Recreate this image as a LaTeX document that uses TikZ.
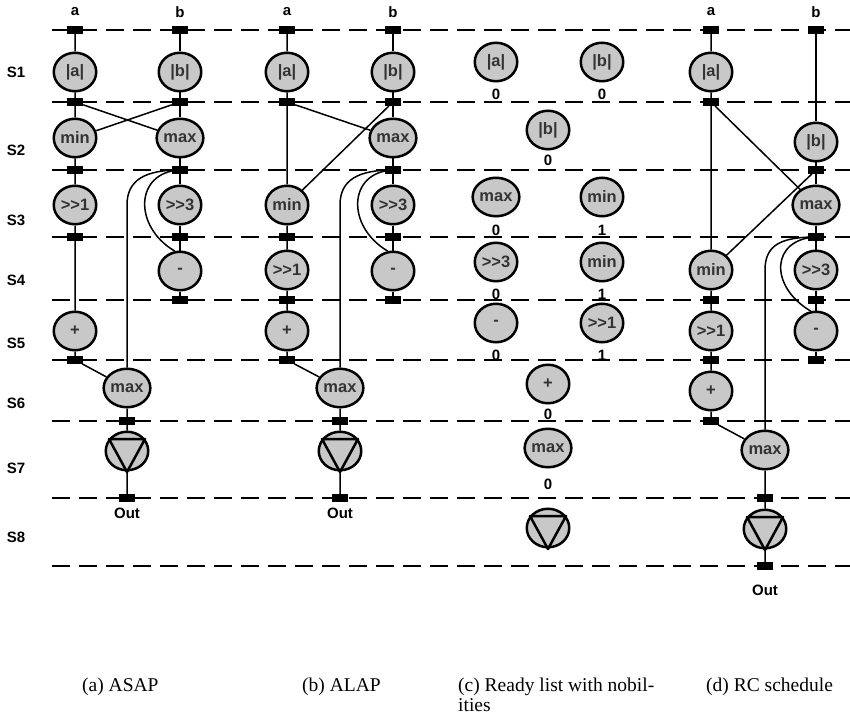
\documentclass[tikz,border=0pt]{standalone}
\usepackage{fontspec}
\setmainfont{Liberation Serif}
\newfontfamily\labelfont{Liberation Sans}
\usetikzlibrary{shapes.geometric}

\definecolor{Copfill}{HTML}{C8C8C8}
\definecolor{Coptext}{HTML}{333333}

\tikzset{
  opnode/.style={ellipse,draw=black,line width=2.5pt,fill=Copfill,minimum width=42.5pt,minimum height=38.5pt,
    inner sep=0pt,text=Coptext,font=\labelfont\bfseries\fontsize{16.5}{18}\selectfont},
  regbox/.style={rectangle,fill=black,minimum width=16pt,minimum height=7.5pt,inner sep=0pt},
  stageline/.style={line width=2.5pt,dash pattern=on 18pt off 9pt},
  wire/.style={line width=1.5pt},
  tag/.style={font=\labelfont\bfseries\fontsize{15}{17}\selectfont,inner sep=0pt},
  caption/.style={font=\fontsize{19.5}{20}\selectfont,anchor=north west,align=left,inner sep=0pt}
}

% inverted triangle inside an output node
\newcommand\outtri[1]{\draw[line width=2.5pt,line join=round] (#1.center) ++(-18,-12) -- ++(36,0) -- ++(-18,33) -- cycle;}

\begin{document}
\begin{tikzpicture}[x=1pt,y=-1pt]
	\useasboundingbox (0,0) rectangle (850,719);

	% control steps
	\foreach \y in {30,102,170,237,300,360,421,498,566}
		\draw[stageline] (52,\y) -- (850,\y);
	\foreach \s/\y in {1/72,2/150,3/220,4/280,5/343,6/403,7/468,8/537}
		\node[tag] (step\s) at (16,\y) {S\s};

	% (a) ASAP
	\node[tag] (A-ina) at (75,12) {a};
	\node[tag] (A-inb) at (180,12) {b};
	\foreach \n/\x/\y in {A-ra0/75/30,A-ra1/75/102,A-ra2/75/170,A-ra3/75/237,A-ra5/75/360,
		A-rb0/180/30,A-rb1/180/102,A-rb2/180/170,A-rb3/180/237,A-rb4/180/300,A-rm6/127/421,A-rm7/127/498}
		\node[regbox] (\n) at (\x,\y) {};
	\node[opnode] (A-absa) at (75,72) {|a|};
	\node[opnode] (A-absb) at (180,72) {|b|};
	\node[opnode] (A-min) at (75,138) {min};
	\node[opnode] (A-max) at (180,138) {max};
	\node[opnode] (A-sh1) at (75,205) {>>1};
	\node[opnode] (A-sh3) at (180,205) {>>3};
	\node[opnode] (A-sub) at (180,271) {-};
	\node[opnode] (A-add) at (75,331) {+};
	\node[opnode] (A-mx) at (127,388) {max};
	\node[opnode] (A-tri) at (127,451) {};
	\outtri{A-tri}
	\node[tag] (A-out) at (127,513) {Out};
	\draw[wire] (A-ra0) -- (A-absa) -- (A-ra1) -- (A-min) -- (A-ra2) -- (A-sh1) -- (A-ra3) -- (A-add) -- (A-ra5) -- (A-mx) -- (A-rm6) -- (A-tri) -- (A-rm7);
	\draw[wire] (A-rb0) -- (A-absb) -- (A-rb1) -- (A-max) -- (A-rb2) -- (A-sh3) -- (A-rb3) -- (A-sub) -- (A-rb4);
	\draw[wire] (A-ra1) -- (A-max);
	\draw[wire] (A-rb1) -- (A-min);
	\draw[wire] (A-rb2.center) .. controls +(-35,0) and +(0,-25) .. (A-mx |- A-sh3) -- (A-mx);
	\draw[wire] (A-rb2.center) .. controls +(-45,2) and +(-42,-25) .. (A-sub.105);

	% (b) ALAP
	\node[tag] (B-ina) at (287,12) {a};
	\node[tag] (B-inb) at (393,12) {b};
	\foreach \n/\x/\y in {B-ra0/287/30,B-ra1/287/102,B-ra3/287/237,B-ra4/287/300,B-ra5/287/360,
		B-rb0/393/30,B-rb1/393/102,B-rb2/393/170,B-rb3/393/237,B-rb4/393/300,B-rm6/340/421,B-rm7/340/498}
		\node[regbox] (\n) at (\x,\y) {};
	\node[opnode] (B-absa) at (287,72) {|a|};
	\node[opnode] (B-absb) at (393,72) {|b|};
	\node[opnode] (B-max) at (393,138) {max};
	\node[opnode] (B-min) at (287,205) {min};
	\node[opnode] (B-sh3) at (393,205) {>>3};
	\node[opnode] (B-sh1) at (287,270) {>>1};
	\node[opnode] (B-sub) at (393,271) {-};
	\node[opnode] (B-add) at (287,331) {+};
	\node[opnode] (B-mx) at (340,388) {max};
	\node[opnode] (B-tri) at (340,451) {};
	\outtri{B-tri}
	\node[tag] (B-out) at (340,513) {Out};
	\draw[wire] (B-ra0) -- (B-absa) -- (B-ra1) -- (B-min) -- (B-ra3) -- (B-sh1) -- (B-ra4) -- (B-add) -- (B-ra5) -- (B-mx) -- (B-rm6) -- (B-tri) -- (B-rm7);
	\draw[wire] (B-rb0) -- (B-absb) -- (B-rb1) -- (B-max) -- (B-rb2) -- (B-sh3) -- (B-rb3) -- (B-sub) -- (B-rb4);
	\draw[wire] (B-ra1) -- (B-max);
	\draw[wire] (B-rb1) -- (B-min);
	\draw[wire] (B-rb2.center) .. controls +(-35,0) and +(0,-25) .. (B-mx |- B-sh3) -- (B-mx);
	\draw[wire] (B-rb2.center) .. controls +(-45,2) and +(-42,-25) .. (B-sub.105);

	% (c) ready list
	\node[opnode] (C-absa) at (496,62) {|a|};
	\node[opnode] (C-absb) at (602,62) {|b|};
	\node[opnode] (C-absb2) at (548,130) {|b|};
	\node[opnode] (C-max) at (496,197) {max};
	\node[opnode] (C-min) at (602,197) {min};
	\node[opnode] (C-sh3) at (496,262) {>>3};
	\node[opnode] (C-min2) at (602,262) {min};
	\node[opnode] (C-sub) at (496,323) {-};
	\node[opnode] (C-sh1) at (602,323) {>>1};
	\node[opnode] (C-add) at (548,384) {+};
	\node[opnode] (C-mx) at (548,448) {max};
	\node[opnode] (C-tri) at (548,528) {};
	\outtri{C-tri}
	\foreach \n/\v/\d in {C-absa/0/6,C-absb/0/6,C-absb2/0/4.5,C-max/0/7,C-min/1/7,C-sh3/0/6,C-min2/1/6,
		C-sub/0/6,C-sh1/1/6,C-add/0/4.5,C-mx/0/10.5}
		\node[tag,anchor=north] (\n-nob) at ([yshift=-\d pt]\n.south) {\v};

	% (d) RC schedule
	\node[tag] (D-ina) at (711,12) {a};
	\node[tag] (D-inb) at (816,12) {b};
	\foreach \n/\x/\y in {D-ra0/711/30,D-ra1/711/102,D-ra4/711/300,D-ra5/711/360,D-ra6/711/421,
		D-rb0/816/30,D-rb2/816/170,D-rb3/816/237,D-rb4/816/300,D-rb5/816/360,D-rm7/765/498,D-rm8/765/566}
		\node[regbox] (\n) at (\x,\y) {};
	\node[opnode] (D-absa) at (711,72) {|a|};
	\node[opnode] (D-absb) at (816,142) {|b|};
	\node[opnode] (D-max) at (816,205) {max};
	\node[opnode] (D-min) at (711,270) {min};
	\node[opnode] (D-sh3) at (816,270) {>>3};
	\node[opnode] (D-sh1) at (711,331) {>>1};
	\node[opnode] (D-sub) at (816,331) {-};
	\node[opnode] (D-add) at (711,391) {+};
	\node[opnode] (D-mx) at (765,450) {max};
	\node[opnode] (D-tri) at (765,529) {};
	\outtri{D-tri}
	\node[tag] (D-out) at (765,590) {Out};
	\draw[wire] (D-ra0) -- (D-absa) -- (D-ra1) -- (D-min) -- (D-ra4) -- (D-sh1) -- (D-ra5) -- (D-add) -- (D-ra6) -- (D-mx) -- (D-rm7) -- (D-tri) -- (D-rm8);
	\draw[wire] (D-rb0) -- (D-absb) -- (D-rb2) -- (D-max) -- (D-rb3) -- (D-sh3) -- (D-rb4) -- (D-sub) -- (D-rb5);
	\draw[wire] (D-ra1) -- (D-max);
	\draw[wire] (D-rb2) -- (D-min);
	\draw[wire] (D-rb3.center) .. controls +(-35,0) and +(0,-25) .. (D-mx |- D-sh3) -- (D-mx);
	\draw[wire] (D-rb3.center) .. controls +(-45,2) and +(-42,-25) .. (D-sub.105);

	% captions
	\node[caption] (cap-a) at (82,678) {(a) ASAP};
	\node[caption] (cap-b) at (302,678) {(b) ALAP};
	\node[caption] (cap-c) at (458,678) {(c) Ready list with nobil-\\ities};
	\node[caption] (cap-d) at (706,678) {(d) RC schedule};
\end{tikzpicture}
\end{document}
